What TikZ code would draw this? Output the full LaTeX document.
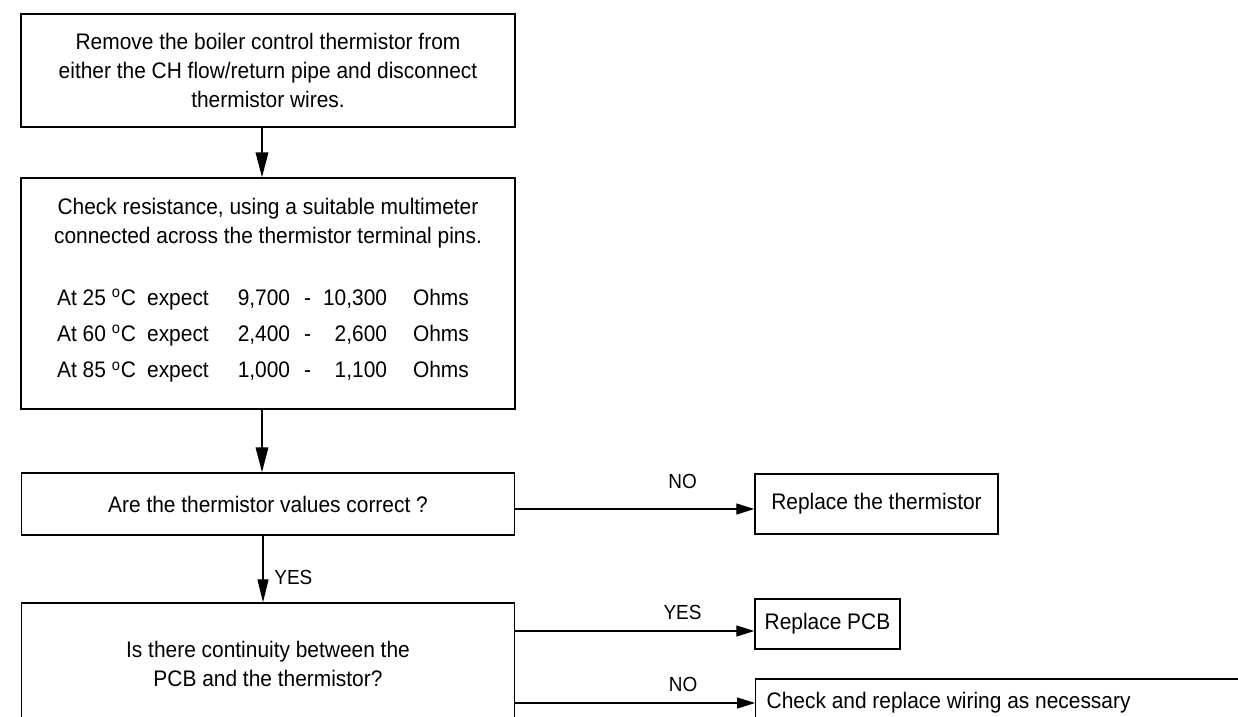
\documentclass[tikz,border=0pt]{standalone}
\usepackage{fontspec}
\setmainfont{Liberation Sans}[FakeStretch=0.93]
\usetikzlibrary{arrows.meta,calc,positioning}

\begin{document}
\begin{tikzpicture}[
  x=0.02cm, y=-0.02cm,
  box/.style={draw, line width=0.8pt, inner sep=0pt, align=center,
              font=\fontsize{12.8}{16.5}\selectfont},
  lbl/.style={font=\fontsize{11.6}{13}\selectfont},
  arr/.style={-{Triangle[length=0.5cm,width=0.25cm]}, line width=1.1pt},
  yarr/.style={-{Triangle[length=0.46cm,width=0.22cm]}, line width=0.6pt},
  harr/.style={-{Triangle[length=0.36cm,width=0.22cm]}, line width=0.7pt},
]
\useasboundingbox (0,0) rectangle (1238,717);

%% main column
\node[box, minimum width=9.88cm, minimum height=2.26cm] (remove) at (268,70.5)
    {Remove the boiler control thermistor from\\
     either the CH flow/return pipe and disconnect\\
     thermistor wires.};
\node[box, minimum width=9.88cm, minimum height=4.62cm] (check) at (268,293.5)
    {Check resistance, using a suitable multimeter\\
     connected across the thermistor terminal pins.\\[0.6cm]
     \renewcommand{\arraystretch}{1.25}%
     \begin{tabular}{@{}l@{\hspace{0.58cm}}r@{\hspace{0.28cm}}c@{\hspace{0.24cm}}r@{\hspace{0.52cm}}l@{}}
       At 25 \textsuperscript{o}C\enspace expect & 9,700 & - & 10,300 & Ohms\\
       At 60 \textsuperscript{o}C\enspace expect & 2,400 & - & 2,600  & Ohms\\
       At 85 \textsuperscript{o}C\enspace expect & 1,000 & - & 1,100  & Ohms
     \end{tabular}\hspace*{0.2cm}};
\node[box, minimum width=9.86cm, minimum height=1.24cm] (values) at (268,504)
    {Are the thermistor values correct ?};
\node[box, minimum width=9.86cm, minimum height=2.44cm] (cont) at (268,664)
    {Is there continuity between the\\PCB and the thermistor?};

%% outcomes on the right
\node[box, minimum width=4.86cm, minimum height=1.2cm] (repth) at (876.5,504)
    {Replace the thermistor};
\node[box, minimum width=2.9cm, minimum height=1.0cm] (reppcb) at (827.5,624)
    {Replace PCB};
\node[box, anchor=west, align=flush left, inner xsep=0.22cm, text width=11.5cm,
      minimum height=0.96cm] (wiring) at (755,703)
    {Check and replace wiring as necessary};

%% connectors
\draw[arr]  ([xshift=-0.12cm]remove.south) -- ([xshift=-0.12cm]check.north);
\draw[arr]  ([xshift=-0.12cm]check.south) -- ([xshift=-0.12cm]values.north);
\draw[yarr] ([xshift=-0.1cm]values.south)
    -- node[lbl, pos=0.63, right=0.1cm] {YES} ([xshift=-0.1cm]cont.north);
\draw[harr] ([yshift=-0.1cm]values.east)
    -- node[lbl, pos=0.7, above=0.27cm] {NO} ([yshift=-0.1cm]repth.west);
\draw[harr] ($(cont.east |- reppcb.west)+(0,7)$)
    -- node[lbl, pos=0.7, above=0.1cm] {YES} ($(reppcb.west)+(0,7)$);
\draw[harr] (cont.east |- wiring.west)
    -- node[lbl, pos=0.7, above=0.09cm] {NO} (wiring.west);

\end{tikzpicture}
\end{document}
